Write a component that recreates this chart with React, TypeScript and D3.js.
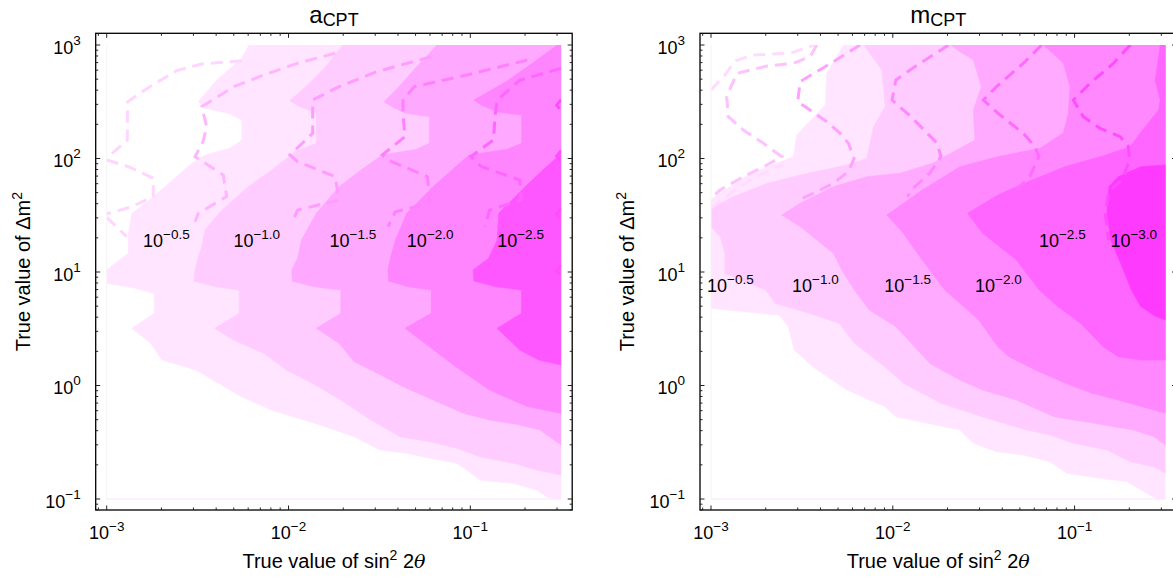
import React from 'react'
import * as d3 from 'd3'

type Pt = [number, number] // [log10 sin^2 2theta, log10 dm^2]

const xTickExps = [-3, -2, -1]
const yTickExps = [-1, 0, 1, 2, 3]

// ---- a_CPT panel: filled contour boundaries (region to the right is filled)
const aFill1: Pt[] = [[-2.217, 3.0], [-2.257, 2.883], [-2.404, 2.677], [-2.496, 2.5], [-2.459, 2.442], [-2.331, 2.398], [-2.257, 2.339], [-2.257, 2.163], [-2.322, 2.09], [-2.459, 2.031], [-2.532, 1.958], [-2.679, 1.752], [-2.789, 1.605], [-2.862, 1.517], [-2.881, 1.341], [-2.881, 1.165], [-2.954, 1.077], [-3.0, 1.018], [-3.0, 0.9], [-2.85, 0.86], [-2.738, 0.812], [-2.738, 0.636], [-2.862, 0.504], [-2.758, 0.372], [-2.696, 0.225], [-2.51, 0.137], [-2.386, 0.019], [-2.26, -0.098], [-2.095, -0.216], [-1.826, -0.348], [-1.639, -0.451], [-1.497, -0.568], [-1.35, -0.597], [-1.222, -0.641], [-1.075, -0.685], [-1.02, -0.744], [-0.947, -0.833], [-0.763, -0.862], [-0.635, -0.921], [-0.58, -0.98], [-0.534, -1.0]]
const aFill2: Pt[] = [[-1.702, 3.0], [-1.8, 2.8], [-1.9, 2.64], [-1.992, 2.51], [-1.95, 2.465], [-1.847, 2.4], [-1.847, 2.134], [-1.964, 2.06], [-2.092, 1.899], [-2.221, 1.752], [-2.367, 1.546], [-2.459, 1.37], [-2.477, 1.223], [-2.496, 1.135], [-2.514, 1.018], [-2.52, 0.92], [-2.4, 0.87], [-2.271, 0.841], [-2.271, 0.636], [-2.406, 0.504], [-2.303, 0.401], [-2.137, 0.284], [-2.012, 0.137], [-1.87, 0.02], [-1.72, -0.12], [-1.55, -0.3], [-1.387, -0.451], [-1.222, -0.495], [-1.075, -0.553], [-0.947, -0.627], [-0.763, -0.685], [-0.635, -0.744], [-0.5, -0.789]]
const aFill3: Pt[] = [[-1.183, 3.0], [-1.3, 2.8], [-1.4, 2.62], [-1.474, 2.5], [-1.432, 2.457], [-1.36, 2.4], [-1.225, 2.369], [-1.225, 2.134], [-1.3, 2.08], [-1.484, 2.031], [-1.6, 1.9], [-1.722, 1.752], [-1.847, 1.517], [-1.929, 1.282], [-1.95, 1.12], [-1.982, 1.018], [-1.98, 0.92], [-1.86, 0.87], [-1.712, 0.841], [-1.712, 0.636], [-1.847, 0.504], [-1.722, 0.372], [-1.639, 0.21], [-1.5, 0.1], [-1.37, -0.01], [-1.204, -0.128], [-1.039, -0.245], [-0.894, -0.304], [-0.75, -0.34], [-0.617, -0.392], [-0.5, -0.524]]
const aFill4: Pt[] = [[-0.52, 3.0], [-0.65, 2.85], [-0.8, 2.68], [-0.98, 2.515], [-0.94, 2.471], [-0.85, 2.41], [-0.717, 2.383], [-0.717, 2.134], [-0.8, 2.08], [-1.008, 2.031], [-1.1, 1.9], [-1.205, 1.752], [-1.35, 1.517], [-1.412, 1.282], [-1.44, 1.12], [-1.453, 1.018], [-1.45, 0.92], [-1.34, 0.87], [-1.215, 0.841], [-1.215, 0.636], [-1.36, 0.504], [-1.225, 0.342], [-1.08, 0.166], [-0.894, -0.04], [-0.686, -0.186], [-0.5, -0.245]]
const aFill5: Pt[] = [[-0.5, 2.046], [-0.6, 1.9], [-0.7, 1.75], [-0.844, 1.517], [-0.852, 1.282], [-0.9, 1.12], [-0.985, 1.018], [-0.98, 0.92], [-0.86, 0.87], [-0.718, 0.841], [-0.718, 0.636], [-0.853, 0.504], [-0.728, 0.313], [-0.624, 0.225], [-0.5, 0.181]]
const aFillColors = ['#ffe5ff', '#ffccff', '#ffa8ff', '#ff85ff', '#ff57ff']

// a_CPT dashed contours
const aDash1: Pt[][] = [
  [[-2.257, 2.862], [-2.477, 2.833], [-2.615, 2.774], [-2.762, 2.633], [-2.885, 2.5], [-2.887, 2.163], [-3.0, 2.0]],
  [[-3.0, 1.987], [-2.881, 1.928], [-2.744, 1.826], [-2.744, 1.664], [-2.862, 1.575], [-3.0, 1.511]],
  [[-3.0, 1.482], [-2.89, 1.311]]
]
const aDash2: Pt[][] = [[[-1.743, 2.927], [-1.95, 2.839], [-2.136, 2.736], [-2.3, 2.633], [-2.477, 2.457], [-2.45, 2.28], [-2.47, 2.15], [-2.514, 2.016], [-2.359, 1.855], [-2.34, 1.664], [-2.496, 1.517], [-2.514, 1.443]]]
const aDash3: Pt[][] = [[[-1.215, 2.897], [-1.515, 2.765], [-1.722, 2.633], [-1.867, 2.515], [-1.867, 2.398], [-1.867, 2.222], [-1.992, 2.031], [-1.95, 1.972], [-1.743, 1.84], [-1.722, 1.634], [-1.95, 1.546], [-1.982, 1.43]]]
const aDash4: Pt[][] = [[[-0.686, 2.868], [-1.017, 2.736], [-1.308, 2.633], [-1.37, 2.515], [-1.37, 2.398], [-1.36, 2.192], [-1.484, 2.031], [-1.432, 1.972], [-1.235, 1.84], [-1.225, 1.605], [-1.412, 1.531], [-1.453, 1.4]]]
const aDash5: Pt[][] = [[[-0.5, 2.795], [-0.728, 2.69], [-0.852, 2.515], [-0.862, 2.398], [-0.873, 2.163], [-0.997, 2.016], [-0.94, 1.93], [-0.728, 1.81], [-0.72, 1.634], [-0.894, 1.546], [-0.92, 1.4]]]
const aDash6: Pt[][] = [
  [[-0.5, 2.52], [-0.525, 2.47], [-0.5, 2.42]],
  [[-0.5, 2.07], [-0.525, 2.02], [-0.5, 1.97]],
  [[-0.5, 1.56], [-0.525, 1.51], [-0.5, 1.46]],
  [[-0.5, 1.06], [-0.525, 1.01], [-0.5, 0.96]]
]
const aDashes = [aDash1, aDash2, aDash3, aDash4, aDash5, aDash6]
const aDashColors = ['#ffd6ff', '#ffb6ff', '#ff9cff', '#ff80ff', '#ff66ff', '#ff4cff']

const aLabels = ['\u22120.5', '\u22121.0', '\u22121.5', '\u22122.0', '\u22122.5']
const aLabelAt: Pt[] = [[-2.8, 1.223], [-2.303, 1.223], [-1.774, 1.223], [-1.349, 1.223], [-0.852, 1.223]]

// ---- m_CPT panel
const mFill1: Pt[] = [[-2.271, 3.0], [-2.363, 2.75], [-2.372, 2.471], [-2.528, 2.207], [-2.547, 2.016], [-2.785, 1.87], [-3.0, 1.64], [-3.0, 0.68], [-2.73, 0.636], [-2.626, 0.621], [-2.574, 0.518], [-2.543, 0.313], [-2.44, 0.166], [-2.253, -0.04], [-2.045, -0.186], [-1.983, -0.275], [-1.63, -0.392], [-1.557, -0.509], [-1.429, -0.583], [-1.282, -0.612], [-1.135, -0.671], [-1.043, -0.773], [-0.86, -0.818], [-0.713, -0.847], [-0.603, -0.95], [-0.548, -1.0]]
const mFill2: Pt[] = [[-2.161, 3.0], [-2.06, 2.78], [-2.042, 2.457], [-2.106, 2.28], [-2.143, 2.0], [-2.253, 1.943], [-2.51, 1.855], [-2.693, 1.78], [-2.877, 1.663], [-3.0, 1.561], [-3.0, 1.4], [-2.95, 1.311], [-2.923, 1.165], [-2.923, 0.989], [-2.699, 0.841], [-2.647, 0.724], [-2.46, 0.636], [-2.295, 0.548], [-2.211, 0.372], [-2.045, 0.166], [-1.942, 0.019], [-1.735, -0.157], [-1.5, -0.28], [-1.263, -0.392], [-1.135, -0.436], [-1.007, -0.509], [-0.823, -0.568], [-0.694, -0.671], [-0.566, -0.716], [-0.5, -0.773]]
const mFill3: Pt[] = [[-1.683, 3.0], [-1.62, 2.93], [-1.557, 2.868], [-1.513, 2.633], [-1.557, 2.427], [-1.548, 2.163], [-1.631, 2.09], [-1.78, 1.96], [-1.959, 1.87], [-2.143, 1.84], [-2.327, 1.752], [-2.51, 1.605], [-2.611, 1.502], [-2.51, 1.4], [-2.418, 1.282], [-2.327, 1.165], [-2.271, 0.989], [-2.212, 0.841], [-2.129, 0.665], [-1.983, 0.518], [-1.88, 0.342], [-1.797, 0.195], [-1.631, 0.048], [-1.506, -0.04], [-1.32, -0.128], [-1.113, -0.275], [-0.9, -0.33], [-0.676, -0.392], [-0.566, -0.45], [-0.5, -0.524]]
const mFill4: Pt[] = [[-1.172, 3.0], [-1.062, 2.841], [-1.025, 2.633], [-1.034, 2.4], [-1.062, 2.225], [-1.19, 2.09], [-1.423, 2.016], [-1.631, 1.928], [-1.838, 1.722], [-2.033, 1.502], [-1.942, 1.341], [-1.838, 1.106], [-1.714, 0.841], [-1.631, 0.724], [-1.527, 0.577], [-1.423, 0.342], [-1.361, 0.254], [-1.216, 0.137], [-1.05, 0.019], [-0.905, -0.069], [-0.76, -0.128], [-0.5, -0.245]]
const mFill5: Pt[] = [[-0.529, 3.0], [-0.557, 2.69], [-0.529, 2.515], [-0.538, 2.427], [-0.639, 2.225], [-0.694, 2.104], [-0.85, 2.02], [-1.05, 1.93], [-1.25, 1.8], [-1.42, 1.68], [-1.589, 1.517], [-1.506, 1.341], [-1.32, 1.106], [-1.195, 0.841], [-1.092, 0.695], [-0.968, 0.548], [-0.843, 0.342], [-0.76, 0.254], [-0.636, 0.225], [-0.5, 0.225]]
const mFill6: Pt[] = [[-0.5, 1.943], [-0.635, 1.928], [-0.76, 1.84], [-0.812, 1.752], [-0.822, 1.517], [-0.801, 1.282], [-0.739, 1.047], [-0.688, 0.841], [-0.636, 0.695], [-0.553, 0.607], [-0.5, 0.577]]
const mFillColors = ['#ffe5ff', '#ffccff', '#ffaaff', '#ff88ff', '#ff66ff', '#ff3aff']

const mDashA: Pt[][] = [
  [[-3.0, 2.604], [-2.923, 2.736], [-2.868, 2.859], [-2.769, 2.912], [-2.565, 2.927], [-2.427, 3.0]],
  [[-3.0, 1.561], [-2.895, 1.693], [-2.785, 1.81], [-2.693, 1.884], [-2.6, 1.95]]
]
const mDashB: Pt[][] = [[[-2.418, 3.0], [-2.455, 2.897], [-2.547, 2.839], [-2.693, 2.815], [-2.858, 2.75], [-2.914, 2.545], [-2.905, 2.368], [-2.822, 2.251], [-2.712, 2.134], [-2.611, 2.016], [-2.693, 1.943], [-2.822, 1.84], [-2.95, 1.722], [-3.0, 1.65]]]
const mDashC: Pt[][] = [[[-2.18, 3.0], [-2.253, 2.927], [-2.327, 2.853], [-2.418, 2.765], [-2.51, 2.677], [-2.523, 2.5], [-2.455, 2.427], [-2.363, 2.324], [-2.29, 2.222], [-2.244, 2.134], [-2.213, 2.0], [-2.244, 1.884], [-2.327, 1.782], [-2.418, 1.708], [-2.51, 1.64]]]
const mDashD: Pt[][] = [[[-1.693, 3.0], [-1.879, 2.809], [-1.983, 2.692], [-2.004, 2.515], [-1.9, 2.368], [-1.756, 2.134], [-1.735, 2.016], [-1.797, 1.87], [-1.879, 1.752], [-1.921, 1.663]]]
const mDashE: Pt[][] = [[[-1.181, 3.0], [-1.282, 2.839], [-1.429, 2.633], [-1.502, 2.515], [-1.41, 2.383], [-1.282, 2.222], [-1.218, 2.104], [-1.196, 2.016], [-1.247, 1.84], [-1.34, 1.693]]]
const mDashF: Pt[][] = [[[-0.694, 3.0], [-0.786, 2.839], [-0.915, 2.663], [-1.007, 2.515], [-0.952, 2.368], [-0.86, 2.266], [-0.749, 2.192], [-0.704, 2.104], [-0.698, 1.987], [-0.739, 1.81], [-0.812, 1.708], [-0.832, 1.517], [-0.812, 1.282]]]
const mDashes = [mDashA, mDashB, mDashC, mDashD, mDashE, mDashF]
const mDashColors = ['#ffdcff', '#ffc2ff', '#ffa2ff', '#ff88ff', '#ff6aff', '#ff4cff']

const mLabels = ['\u22120.5', '\u22121.0', '\u22121.5', '\u22122.0', '\u22122.5', '\u22123.0']
const mLabelAt: Pt[] = [[-3.022, 0.824], [-2.554, 0.824], [-2.047, 0.824], [-1.548, 0.824], [-1.196, 1.223], [-0.803, 1.223]]

// ---- layout
const W = 1173
const H = 579
const PANEL_DX = 604.3
const FONT = '"Liberation Sans", Arial, Helvetica, sans-serif'

const x = d3.scaleLog().domain([1e-3, Math.pow(10, -0.5)]).range([106.7, 561.2])
const y = d3.scaleLog().domain([0.1, 1000]).range([499, 45])
const px = (p: Pt) => x(Math.pow(10, p[0]))
const py = (p: Pt) => y(Math.pow(10, p[1]))
const line = d3.line<Pt>().x(px).y(py)

const frame = {
  left: x.range()[0] - 11,
  right: x.range()[1] + 11,
  top: y.range()[1] - 11.7,
  bottom: y.range()[0] + 11
}
const lxMax = Math.log10(x.domain()[1])
const lyMin = Math.log10(y.domain()[0])
const lyMax = Math.log10(y.domain()[1])

// close a boundary along the right side of the data area
function regionPath(points: Pt[]) {
  const pts = points.slice()
  const first = pts[0]
  const last = pts[pts.length - 1]
  if (Math.abs(last[1] - lyMin) < 0.01) pts.push([lxMax, lyMin])
  if (Math.abs(first[1] - lyMax) < 0.01) pts.push([lxMax, lyMax])
  return line(pts) + 'Z'
}

function buildTicks() {
  const xs: { v: number, major: boolean }[] = []
  const ys: { v: number, major: boolean }[] = []
  for (let e = -4; e <= 3; e++) {
    for (let m = 1; m < 10; m++) {
      const v = m * Math.pow(10, e)
      const tx = x(v)
      if (tx >= frame.left && tx <= frame.right) xs.push({ v: tx, major: m === 1 })
      const ty = y(v)
      if (ty >= frame.top && ty <= frame.bottom) ys.push({ v: ty, major: m === 1 })
    }
  }
  return { xs, ys }
}

const Pow = ({ exp, sup, dy }: { exp: string, sup: number, dy: number }) => (
  <>
    <tspan>10</tspan>
    <tspan fontSize={sup} dy={dy}>{exp}</tspan>
  </>
)

function Panel({ id, dx, title, fills, colors, dashes, dashColors, labels, labelAt }: any) {
  const { xs, ys } = buildTicks()
  const midX = (frame.left + frame.right) / 2
  const midY = (frame.top + frame.bottom) / 2
  return (
    <g transform={`translate(${dx},0)`}>
      <defs>
        <clipPath id={id}>
          <rect x={x.range()[0]} y={y.range()[1]} width={x.range()[1] - x.range()[0]} height={y.range()[0] - y.range()[1]} />
        </clipPath>
      </defs>
      <g clipPath={`url(#${id})`}>
        {fills.map((f: Pt[], i: number) => (
          <path key={i} d={regionPath(f)} fill={colors[i]} stroke={colors[i]} strokeWidth={0.6} />
        ))}
        {dashes.map((segs: Pt[][], i: number) => segs.map((s, j) => (
          <path key={i + '-' + j} d={line(s) || ''} fill='none' stroke={dashColors[i]}
            strokeWidth={3} strokeDasharray='12,7' />
        )))}
      </g>
      <line x1={x.range()[0]} x2={x.range()[1]} y1={y.range()[0]} y2={y.range()[0]} stroke='#f8e4f8' />
      <line x1={x.range()[0]} x2={x.range()[0]} y1={y.range()[1]} y2={y.range()[0]} stroke='#f3f3f3' />

      {labels.map((t: string, i: number) => (
        <text key={i} x={px(labelAt[i])} y={py(labelAt[i])} fontSize={18} fill='#000'>
          <Pow exp={t} sup={13.5} dy={-8} />
        </text>
      ))}

      {/* frame */}
      <rect x={frame.left} y={frame.top} width={frame.right - frame.left} height={frame.bottom - frame.top}
        fill='none' stroke='#000' strokeWidth={1.3} />
      {xs.map((t, i) => (
        <g key={'x' + i} stroke='#222' strokeWidth={1}>
          <line x1={t.v} x2={t.v} y1={frame.bottom} y2={frame.bottom - (t.major ? 4.5 : 2.5)} />
          <line x1={t.v} x2={t.v} y1={frame.top} y2={frame.top + (t.major ? 4.5 : 2.5)} />
        </g>
      ))}
      {ys.map((t, i) => (
        <g key={'y' + i} stroke='#222' strokeWidth={1}>
          <line y1={t.v} y2={t.v} x1={frame.left} x2={frame.left + (t.major ? 4.5 : 2.5)} />
          <line y1={t.v} y2={t.v} x1={frame.right} x2={frame.right - (t.major ? 4.5 : 2.5)} />
        </g>
      ))}
      {xTickExps.map(e => (
        <text key={'xl' + e} x={x(Math.pow(10, e))} y={539.3} textAnchor='middle' fontSize={18}>
          <Pow exp={e < 0 ? '\u2212' + -e : String(e)} sup={13.5} dy={-8.6} />
        </text>
      ))}
      {yTickExps.map(e => (
        <text key={'yl' + e} x={frame.left - 15} y={y(Math.pow(10, e)) + 8.5} textAnchor='end' fontSize={18}>
          <Pow exp={e < 0 ? '\u2212' + -e : String(e)} sup={13.5} dy={-8.6} />
        </text>
      ))}

      {/* titles */}
      <text x={midX} y={22.5} textAnchor='middle' fontSize={24}>
        <tspan>{title}</tspan>
        <tspan fontSize={18} dy={3}>CPT</tspan>
      </text>
      <text x={midX} y={567.5} textAnchor='middle' fontSize={20}>
        <tspan>True value of sin</tspan>
        <tspan fontSize={14} dy={-8}>2</tspan>
        <tspan dy={8}>{'\u00a02'}</tspan>
        <tspan fontStyle='italic' fontFamily='"DejaVu Serif", "Liberation Serif", serif' fontSize={19}>θ</tspan>
      </text>
      <text transform={`translate(30,${midY}) rotate(-90)`} textAnchor='middle' fontSize={20}>
        <tspan>True value of Δm</tspan>
        <tspan fontSize={14} dy={-8}>2</tspan>
      </text>
    </g>
  )
}

export default function App() {
  return (
    <svg width={W} height={H} style={{ position: 'absolute', left: 0, top: 0, background: '#fff' }}
      fontFamily={FONT}>
      <Panel id='clipA' dx={0} title='a' fills={[aFill1, aFill2, aFill3, aFill4, aFill5]} colors={aFillColors}
        dashes={aDashes} dashColors={aDashColors} labels={aLabels} labelAt={aLabelAt} />
      <Panel id='clipM' dx={PANEL_DX} title='m' fills={[mFill1, mFill2, mFill3, mFill4, mFill5, mFill6]} colors={mFillColors}
        dashes={mDashes} dashColors={mDashColors} labels={mLabels} labelAt={mLabelAt} />
    </svg>
  )
}
